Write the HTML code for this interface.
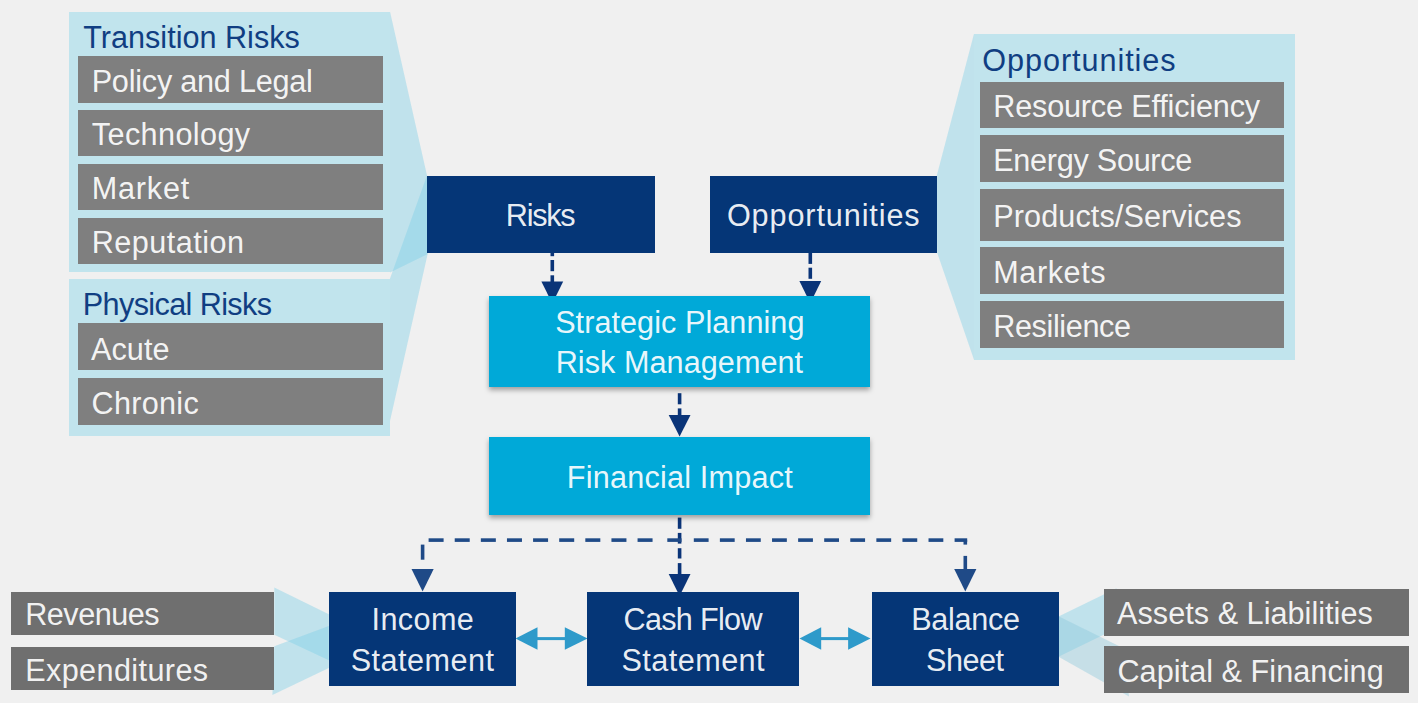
<!DOCTYPE html>
<html lang="en">
<head>
<meta charset="utf-8">
<title>Climate-related risks, opportunities and financial impact</title>
<style>
html,body{margin:0;padding:0;}
body{width:1418px;height:703px;overflow:hidden;background:#f0f0f0;position:relative;font-family:"Liberation Sans",sans-serif;}
#d{position:absolute;left:0;top:0;width:1418px;height:703px;overflow:hidden;background:#f0f0f0;}
#d svg{position:absolute;left:0;top:0;}
.b{position:absolute;}
.panel{background:#c1e4ed;}
.gray{background:#7f7f7f;}
.gray2{background:#6f6f6f;}
.navy{background:#053677;}
.cyan{background:#00a9d8;box-shadow:0 3px 5px rgba(0,0,0,0.34);}
.t{position:absolute;display:block;white-space:nowrap;font-size:30.6px;line-height:36px;height:36px;margin:0;padding:0;}
.tw{color:rgba(255,255,255,0.93);}
.tb{color:#103e82;}
</style>
</head>
<body>
<div id="d">
<svg width="1418" height="703" viewBox="0 0 1418 703" aria-hidden="true">
<polygon points="390,11.6 427,175.6 427.3,254.3 390,272.5" fill="#7fd0e6" fill-opacity="0.42"/>
<polygon points="390,278.6 427,175.6 427.6,254.3 390,421" fill="#7fd0e6" fill-opacity="0.42"/>
<polygon points="974,33.8 936.8,175.6 937.2,252.8 974,359.7" fill="#7fd0e6" fill-opacity="0.42"/>
<polygon points="274.3,587.4 328.8,614.2 328.8,660.2 274.3,634.8" fill="#7fd0e6" fill-opacity="0.42"/>
<polygon points="274.3,646.2 328.8,626 328.8,667.9 272.4,694.9" fill="#7fd0e6" fill-opacity="0.42"/>
<polygon points="1059,616.2 1116.5,588.3 1116.5,628.6 1059,656.4" fill="#7fd0e6" fill-opacity="0.42"/>
<polygon points="1059,616.5 1123.5,648.2 1129,696.5 1059,657" fill="#8cc8dc" fill-opacity="0.42"/>
<rect x="550.5" y="250" width="3.6" height="6.2" fill="#0a3478"/>
<rect x="550.5" y="260" width="3.6" height="11.2" fill="#0a3478"/>
<rect x="550.5" y="275.3" width="3.6" height="7.7" fill="#0a3478"/>
<polygon points="541.4,281.4 563.2,281.4 552.3,303.5" fill="#0a3478"/>
<rect x="808.5" y="250" width="3.6" height="13.9" fill="#0a3478"/>
<rect x="808.5" y="267.7" width="3.6" height="11.1" fill="#0a3478"/>
<polygon points="799.4,281.1 821.2,281.1 810.3,303.2" fill="#0a3478"/>
<rect x="677.8" y="393.2" width="3.6" height="11.1" fill="#0a3478"/>
<rect x="677.8" y="408.4" width="3.6" height="8.6" fill="#0a3478"/>
<polygon points="668.7,415 690.5,415 679.6,436.5" fill="#0a3478"/>
<rect x="677.8" y="517.6" width="3.6" height="11.2" fill="#0a3478"/>
<rect x="677.8" y="532.9" width="3.6" height="10.7" fill="#0a3478"/>
<rect x="677.8" y="548.2" width="3.6" height="10.3" fill="#0a3478"/>
<rect x="677.8" y="563.1" width="3.6" height="12.9" fill="#0a3478"/>
<polygon points="668.7,574.1 690.5,574.1 679.6,596" fill="#0a3478"/>
<rect x="428.6" y="538.3" width="15" height="3.6" fill="#1f4a87"/>
<rect x="454.72" y="538.3" width="15" height="3.6" fill="#1f4a87"/>
<rect x="480.84" y="538.3" width="15" height="3.6" fill="#1f4a87"/>
<rect x="506.96" y="538.3" width="15" height="3.6" fill="#1f4a87"/>
<rect x="533.08" y="538.3" width="15" height="3.6" fill="#1f4a87"/>
<rect x="559.2" y="538.3" width="15" height="3.6" fill="#1f4a87"/>
<rect x="585.32" y="538.3" width="15" height="3.6" fill="#1f4a87"/>
<rect x="611.44" y="538.3" width="15" height="3.6" fill="#1f4a87"/>
<rect x="637.56" y="538.3" width="15" height="3.6" fill="#1f4a87"/>
<rect x="667.3" y="538.3" width="14.2" height="3.6" fill="#1f4a87"/>
<rect x="693.8" y="538.3" width="14.8" height="3.6" fill="#1f4a87"/>
<rect x="719.88" y="538.3" width="14.8" height="3.6" fill="#1f4a87"/>
<rect x="745.96" y="538.3" width="14.8" height="3.6" fill="#1f4a87"/>
<rect x="772.04" y="538.3" width="14.8" height="3.6" fill="#1f4a87"/>
<rect x="798.12" y="538.3" width="14.8" height="3.6" fill="#1f4a87"/>
<rect x="824.2" y="538.3" width="14.8" height="3.6" fill="#1f4a87"/>
<rect x="850.28" y="538.3" width="14.8" height="3.6" fill="#1f4a87"/>
<rect x="876.36" y="538.3" width="14.8" height="3.6" fill="#1f4a87"/>
<rect x="902.44" y="538.3" width="14.8" height="3.6" fill="#1f4a87"/>
<rect x="928.52" y="538.3" width="14.8" height="3.6" fill="#1f4a87"/>
<rect x="954.6" y="538.3" width="12.6" height="3.6" fill="#1f4a87"/>
<rect x="420.8" y="544.6" width="3.6" height="15.1" fill="#1f4a87"/>
<polygon points="411.5,568.9 433.7,568.9 422.6,591.6" fill="#1f4a87"/>
<rect x="963.5" y="540" width="3.6" height="4.6" fill="#1f4a87"/>
<rect x="963.5" y="555.9" width="3.6" height="14.1" fill="#1f4a87"/>
<polygon points="954.2,568.9 976.4,568.9 965.3,591.6" fill="#1f4a87"/>
<rect x="536.5" y="637.1" width="29.3" height="3" fill="#2e9aca"/>
<polygon points="515.5,638.6 537.5,627.35 537.5,649.85" fill="#2e9aca"/>
<polygon points="587.6,638.6 564.8,627.35 564.8,649.85" fill="#2e9aca"/>
<rect x="820.2" y="637.1" width="28.9" height="3" fill="#2e9aca"/>
<polygon points="799.5,638.6 821.2,627.35 821.2,649.85" fill="#2e9aca"/>
<polygon points="870.5,638.6 848.1,627.35 848.1,649.85" fill="#2e9aca"/>
</svg>
<div class="b panel" style="left:68.7px;top:11.6px;width:321.3px;height:260.9px">
 <span class="t tb" style="left:14.52px;top:7.4px;letter-spacing:0.01px;">Transition Risks</span>
 <div class="b gray" style="left:9.5px;top:44.4px;width:304.7px;height:47px">
  <span class="t tw" style="left:13.51px;top:7px;letter-spacing:-0.22px;">Policy and Legal</span>
 </div>
 <div class="b gray" style="left:9.5px;top:98.4px;width:304.7px;height:46.5px">
  <span class="t tw" style="left:13.66px;top:6px;letter-spacing:0.39px;">Technology</span>
 </div>
 <div class="b gray" style="left:9.5px;top:152.2px;width:304.7px;height:46.6px">
  <span class="t tw" style="left:13.45px;top:6.2px;letter-spacing:0.83px;">Market</span>
 </div>
 <div class="b gray" style="left:9.5px;top:206.1px;width:304.7px;height:46.7px">
  <span class="t tw" style="left:13.45px;top:6.3px;letter-spacing:0.49px;">Reputation</span>
 </div>
</div>
<div class="b panel" style="left:68.7px;top:278.6px;width:321.3px;height:157.8px">
 <span class="t tb" style="left:14.15px;top:7.4px;letter-spacing:-0.62px;">Physical Risks</span>
 <div class="b gray" style="left:9.5px;top:44.6px;width:304.7px;height:47px">
  <span class="t tw" style="left:12.78px;top:7.8px;letter-spacing:0.07px;">Acute</span>
 </div>
 <div class="b gray" style="left:9.5px;top:99px;width:304.7px;height:47.4px">
  <span class="t tw" style="left:13.34px;top:7.4px;letter-spacing:0.29px;">Chronic</span>
 </div>
</div>
<div class="b panel" style="left:974px;top:33.8px;width:321.3px;height:325.9px">
 <span class="t tb" style="left:8.25px;top:8.2px;letter-spacing:0.95px;">Opportunities</span>
 <div class="b gray" style="left:6.1px;top:47.9px;width:304.1px;height:46.6px">
  <span class="t tw" style="left:13.11px;top:6.3px;letter-spacing:-0.16px;">Resource Efficiency</span>
 </div>
 <div class="b gray" style="left:6.1px;top:101.2px;width:304.1px;height:46.6px">
  <span class="t tw" style="left:13.11px;top:7px;letter-spacing:-0.27px;">Energy Source</span>
 </div>
 <div class="b gray" style="left:6.1px;top:155.3px;width:304.1px;height:51.9px">
  <span class="t tw" style="left:13.11px;top:8.9px;letter-spacing:0.11px;">Products/Services</span>
 </div>
 <div class="b gray" style="left:6.1px;top:213.2px;width:304.1px;height:47px">
  <span class="t tw" style="left:13.11px;top:7px;letter-spacing:0.6px;">Markets</span>
 </div>
 <div class="b gray" style="left:6.1px;top:267.2px;width:304.1px;height:46.8px">
  <span class="t tw" style="left:13.11px;top:7px;letter-spacing:-0.37px;">Resilience</span>
 </div>
</div>
<div class="b gray2" style="left:11.4px;top:592px;width:262.8px;height:42.8px">
 <span class="t tw" style="left:13.75px;top:4px;letter-spacing:-0.47px;">Revenues</span>
</div>
<div class="b gray2" style="left:11.4px;top:646.8px;width:262.8px;height:43.4px">
 <span class="t tw" style="left:13.75px;top:5.2px;letter-spacing:0.4px;">Expenditures</span>
</div>
<div class="b gray2" style="left:1104.1px;top:589.2px;width:304.6px;height:46.5px">
 <span class="t tw" style="left:13.02px;top:5.8px;letter-spacing:0.03px;">Assets &amp; Liabilities</span>
</div>
<div class="b gray2" style="left:1104.1px;top:646.4px;width:304.6px;height:46.9px">
 <span class="t tw" style="left:13.39px;top:6.6px;letter-spacing:0.05px;">Capital &amp; Financing</span>
</div>
<div class="b navy" style="left:426.8px;top:175.6px;width:227.9px;height:77.2px">
 <span class="t tw" style="left:79.05px;top:21.4px;letter-spacing:-1.25px;">Risks</span>
</div>
<div class="b navy" style="left:710px;top:175.6px;width:226.8px;height:77.2px">
 <span class="t tw" style="left:16.92px;top:21.4px;letter-spacing:0.9px;">Opportunities</span>
</div>
<div class="b navy" style="left:328.6px;top:591.7px;width:187.4px;height:94.4px">
 <span class="t tw" style="left:42.92px;top:9.3px;letter-spacing:0.39px;">Income</span>
 <span class="t tw" style="left:22.12px;top:50.3px;letter-spacing:0.47px;">Statement</span>
</div>
<div class="b navy" style="left:587.4px;top:591.7px;width:211.3px;height:94.4px">
 <span class="t tw" style="left:36.14px;top:9.3px;letter-spacing:-0.69px;">Cash Flow</span>
 <span class="t tw" style="left:34.01px;top:50.3px;letter-spacing:0.47px;">Statement</span>
</div>
<div class="b navy" style="left:871.6px;top:591.7px;width:187.4px;height:94.4px">
 <span class="t tw" style="left:39.55px;top:9.3px;letter-spacing:-0.28px;">Balance</span>
 <span class="t tw" style="left:54.4px;top:50.3px;letter-spacing:-0.47px;">Sheet</span>
</div>
<div class="b cyan" style="left:489px;top:295.6px;width:381.1px;height:91.4px">
 <span class="t tw" style="left:66.13px;top:8.4px;letter-spacing:0.06px;">Strategic Planning</span>
 <span class="t tw" style="left:66.71px;top:48.4px;letter-spacing:0.06px;">Risk Management</span>
</div>
<div class="b cyan" style="left:489px;top:436.6px;width:381.1px;height:78.2px">
 <span class="t tw" style="left:77.84px;top:22.4px;letter-spacing:0.21px;">Financial Impact</span>
</div>
</div>
</body>
</html>
